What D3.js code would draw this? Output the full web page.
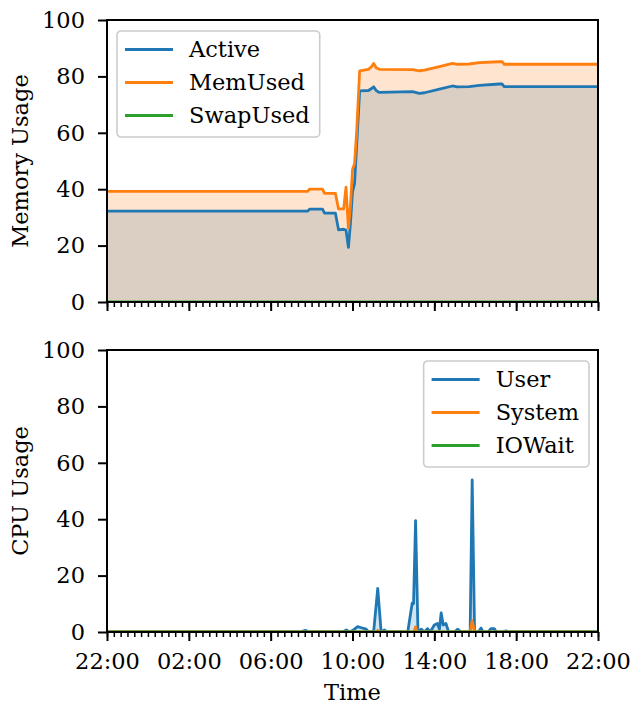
<!DOCTYPE html>
<html>
<head>
<meta charset="utf-8">
<script src="https://cdn.jsdelivr.net/npm/d3@7"></script>
<style>
  body { margin: 0; background: #fff; }
  text { font-family: "DejaVu Serif", serif; }
</style>
</head>
<body>
<div id="container"></div>
<script>
// memory panel
const memTimes = ["22:00", "07:48", "07:54", "08:32", "08:38", "09:10", "09:19", "09:34", "09:41", "09:48",
                  "09:54", "10:00", "10:06", "10:12", "10:21", "10:47", "10:56", "11:02", "11:10", "11:19",
                  "12:56", "13:16", "13:31", "14:15", "14:53", "15:07", "15:42", "16:12", "17:10", "17:19",
                  "17:25", "22:00"];
const activeValues = [32.2, 32.2, 32.9, 32.9, 31.5, 31.5, 25.6, 25.8, 25.5, 19.4,
                      28.0, 39.0, 42.0, 55.0, 74.9, 75.0, 75.7, 76.3, 74.9, 74.3,
                      74.6, 74.0, 74.2, 75.5, 76.6, 76.3, 76.4, 76.8, 77.3, 77.3,
                      76.4, 76.4];
const memUsedValues = [39.2, 39.2, 40.0, 40.0, 38.5, 38.5, 33.0, 33.0, 40.7, 26.2,
                       34.0, 47.0, 49.0, 60.0, 82.0, 82.5, 83.5, 84.6, 83.0, 82.5,
                       82.4, 82.0, 82.2, 83.5, 84.6, 84.3, 84.4, 84.9, 85.2, 85.2,
                       84.3, 84.3];
const swapTimes = ["22:00", "22:00"];
const swapUsedValues = [0, 0];

// cpu panel
const userTimes = ["22:00", "07:25", "07:42", "07:51", "09:31", "09:42", "09:51", "10:00", "10:15", "10:26",
                   "10:40", "10:47", "11:02", "11:14", "11:24", "11:34", "11:42", "12:42", "12:55", "12:59",
                   "13:05", "13:12", "13:22", "13:31", "13:40", "13:48", "14:00", "14:09", "14:15", "14:20",
                   "14:26", "14:34", "14:42", "14:59", "15:08", "15:19", "15:45", "15:51", "15:58", "16:09",
                   "16:17", "16:23", "16:38", "16:46", "16:56", "17:02", "17:22", "17:30", "17:37", "22:00"];
const userValues = [0, 0, 0.6, 0, 0, 0.7, 0, 0.5, 1.9, 1.5,
                    1.0, 0, 0, 15.5, 0, 0.7, 0, 0, 10.2, 10.0,
                    39.5, 0, 1.0, 0, 1.2, 0, 2.5, 3.0, 1.0, 6.8,
                    2.5, 3.0, 0, 0, 1.0, 0, 0, 53.9, 0, 0,
                    1.4, 0, 0, 1.2, 1.2, 0, 0, 0.4, 0, 0];
const systemTimes = ["22:00", "11:10", "11:14", "11:20", "13:00", "13:05", "13:10", "15:45", "15:51", "15:58", "22:00"];
const systemValues = [0, 0, 0.6, 0, 0, 1.8, 0, 0, 4.0, 0, 0];
const ioWaitTimes = ["22:00", "22:00"];
const ioWaitValues = [0, 0];

const yTicks = [0, 20, 40, 60, 80, 100];
const xTickLabels = ["22:00", "02:00", "06:00", "10:00", "14:00", "18:00", "22:00"];

const width = 634;
const height = 706;
const left = 107;
const right = 598;
const tickFont = 22.5;
const labelFont = 22.5;
const colors = ["#1f77b4", "#ff7f0e", "#2ca02c"];

const start = new Date(2020, 0, 1, 22, 0);
const end = new Date(2020, 0, 2, 22, 0);

// "HH:MM" list -> dates, rolling over midnight
const toDates = times => {
  let prev = -1;
  return times.map(t => {
    const [h, m] = t.split(":").map(Number);
    let off = ((h * 60 + m) - 22 * 60 + 1440) % 1440;
    if (off <= prev) off += 1440;
    prev = off;
    return d3.timeMinute.offset(start, off);
  });
};

const x = d3.scaleTime().domain([start, end]).range([left, right]);
const majorTicks = toDates(xTickLabels);

const svg = d3.select("#container")
              .append("svg")
              .attr("width", width)
              .attr("height", height);

const panels = [
  {
    top: 20, bottom: 302, label: "Memory Usage", showLabels: false, legendLoc: "left",
    series: [
      {name: "Active", times: memTimes, values: activeValues},
      {name: "MemUsed", times: memTimes, values: memUsedValues},
      {name: "SwapUsed", times: swapTimes, values: swapUsedValues}
    ]
  },
  {
    top: 350, bottom: 632, label: "CPU Usage", showLabels: true, legendLoc: "right",
    series: [
      {name: "User", times: userTimes, values: userValues},
      {name: "System", times: systemTimes, values: systemValues},
      {name: "IOWait", times: ioWaitTimes, values: ioWaitValues}
    ]
  }
];

panels.forEach((p, pi) => {
  const y = d3.scaleLinear().domain([0, 100]).range([p.bottom, p.top]);
  const g = svg.append("g");

  g.append("clipPath")
   .attr("id", "clip" + pi)
   .append("rect")
   .attr("x", left)
   .attr("y", p.top)
   .attr("width", right - left)
   .attr("height", p.bottom - p.top);

  const plot = g.append("g").attr("clip-path", "url(#clip" + pi + ")");
  const rows = p.series.map(s => {
    const dates = toDates(s.times);
    return s.values.map((v, i) => ({t: dates[i], v: v}));
  });

  const area = d3.area().x(d => x(d.t)).y0(y(0)).y1(d => y(d.v));
  const line = d3.line().x(d => x(d.t)).y(d => y(d.v));

  rows.forEach((r, i) => {
    plot.append("path")
        .attr("d", area(r))
        .attr("fill", colors[i])
        .attr("fill-opacity", 0.2);
  });
  rows.forEach((r, i) => {
    plot.append("path")
        .attr("d", line(r))
        .attr("fill", "none")
        .attr("stroke", colors[i])
        .attr("stroke-width", 2.8)
        .attr("stroke-linejoin", "round");
  });

  // minor x ticks every 20 min
  const minor = g.append("g")
                 .attr("transform", "translate(0," + p.bottom + ")")
                 .call(d3.axisBottom(x).ticks(d3.timeMinute.every(20)).tickSize(5).tickFormat(""));
  minor.select(".domain").remove();
  minor.selectAll("line").attr("stroke", "#000").attr("stroke-width", 1.5);

  const xAxis = g.append("g")
                 .attr("transform", "translate(0," + p.bottom + ")")
                 .call(d3.axisBottom(x)
                         .tickValues(majorTicks)
                         .tickSize(9)
                         .tickPadding(12)
                         .tickFormat(p.showLabels ? d3.timeFormat("%H:%M") : ""));
  xAxis.select(".domain").remove();
  xAxis.selectAll("line").attr("stroke", "#000").attr("stroke-width", 2);
  xAxis.selectAll("text")
       .attr("fill", "#000")
       .style("font-family", "DejaVu Serif")
       .style("font-size", tickFont + "px");

  const yAxis = g.append("g")
                 .attr("transform", "translate(" + left + ",0)")
                 .call(d3.axisLeft(y).tickValues(yTicks).tickSize(9).tickPadding(13));
  yAxis.select(".domain").remove();
  yAxis.selectAll("line").attr("stroke", "#000").attr("stroke-width", 2);
  yAxis.selectAll("text")
       .attr("fill", "#000")
       .style("font-family", "DejaVu Serif")
       .style("font-size", tickFont + "px");

  g.append("rect")
   .attr("x", left)
   .attr("y", p.top)
   .attr("width", right - left)
   .attr("height", p.bottom - p.top)
   .attr("fill", "none")
   .attr("stroke", "#000")
   .attr("stroke-width", 2);

  g.append("text")
   .attr("transform", "translate(28," + (p.top + p.bottom) / 2 + ") rotate(-90)")
   .attr("text-anchor", "middle")
   .style("font-size", labelFont + "px")
   .text(p.label);

  // legend
  const legend = g.append("g");
  const box = legend.append("rect")
                    .attr("rx", 4)
                    .attr("fill", "#fff")
                    .attr("fill-opacity", 0.8)
                    .attr("stroke", "#cccccc")
                    .attr("stroke-width", 1.6);
  const texts = p.series.map((s, i) => {
    legend.append("line")
          .attr("x1", 8).attr("x2", 56)
          .attr("y1", 18.5 + i * 33).attr("y2", 18.5 + i * 33)
          .attr("stroke", colors[i])
          .attr("stroke-width", 2.8);
    return legend.append("text")
                 .attr("x", 72)
                 .attr("y", 25.5 + i * 33)
                 .style("font-size", labelFont + "px")
                 .text(s.name);
  });
  const maxLen = d3.max(texts, t => t.node().getComputedTextLength());
  const boxW = 72 + maxLen + 10;
  box.attr("width", boxW).attr("height", 106);
  const lx = p.legendLoc === "left" ? left + 10 : right - 9 - boxW;
  legend.attr("transform", "translate(" + lx + "," + (p.top + 11) + ")");
});

svg.append("text")
   .attr("x", (left + right) / 2)
   .attr("y", 699.5)
   .attr("text-anchor", "middle")
   .style("font-size", labelFont + "px")
   .text("Time");
</script>
</body>
</html>
